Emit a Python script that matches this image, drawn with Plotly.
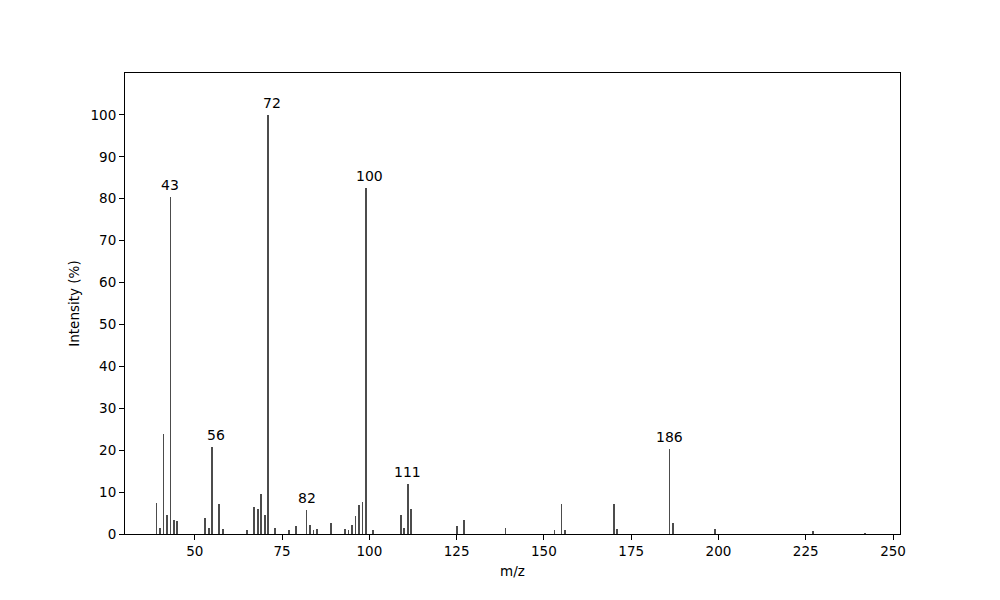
import plotly.graph_objects as go

# m/z values and relative intensities (%)
mz = [39, 40, 41, 42, 43, 44, 45, 53, 54, 55, 57, 58, 65, 67, 68, 69, 70, 71,
      73, 77, 79, 82, 83, 84, 85, 89, 93, 94, 95, 96, 97, 98, 99, 101,
      109, 110, 111, 112, 125, 127, 139, 153, 155, 156, 170, 171,
      186, 187, 199, 227, 242]
intensity = [7.5, 1.5, 23.8, 4.6, 80.3, 3.4, 3.2, 3.9, 1.5, 20.8, 7.2, 1.3,
             1.0, 6.5, 6.0, 9.6, 4.5, 100.0, 1.5, 1.0, 2.0, 5.8, 2.2, 1.0,
             1.3, 2.7, 1.3, 1.0, 2.2, 4.3, 7.0, 7.7, 82.6, 1.0,
             4.5, 1.5, 11.9, 6.0, 1.9, 3.3, 1.4, 0.9, 7.1, 1.0, 7.1, 1.2,
             20.2, 2.6, 1.2, 0.7, 0.3]

# labelled peaks
label_mz = [43, 56, 72, 82, 100, 111, 186]

x_ticks = [50, 75, 100, 125, 150, 175, 200, 225, 250]
y_ticks = [0, 10, 20, 30, 40, 50, 60, 70, 80, 90, 100]

font = "DejaVu Sans"

fig = go.Figure()
fig.add_trace(go.Bar(
    x=mz, y=intensity, width=0.5,
    marker=dict(color="rgba(0,0,0,0.7)", line=dict(width=0)),
    showlegend=False,
))

for lm in label_mz:
    # height of the tallest bar within one unit of the label
    near = [iv for m, iv in zip(mz, intensity) if abs(m - lm) <= 1]
    fig.add_annotation(
        x=lm, y=max(near), text=str(lm), showarrow=False,
        yanchor="bottom", yshift=2,
        font=dict(family=font, size=14, color="black"),
    )

axis_common = dict(
    showline=True, linecolor="black", linewidth=1, mirror=True,
    ticks="outside", ticklen=5, tickwidth=1, tickcolor="black",
    showgrid=False, zeroline=False,
    tickfont=dict(family=font, size=13.5, color="black"),
)

fig.update_layout(
    width=1000, height=600,
    margin=dict(l=117, r=108, t=65, b=74),
    paper_bgcolor="white", plot_bgcolor="white",
    bargap=0,
    xaxis=dict(range=[30, 252], tickvals=x_ticks,
               title=dict(text="m/z", font=dict(family=font, size=13.5, color="black"), standoff=8),
               **axis_common),
    yaxis=dict(range=[0, 110], tickvals=y_ticks,
               title=dict(text="Intensity (%)", font=dict(family=font, size=13.5, color="black"), standoff=7),
               **axis_common),
)

fig.write_html("out.html")
